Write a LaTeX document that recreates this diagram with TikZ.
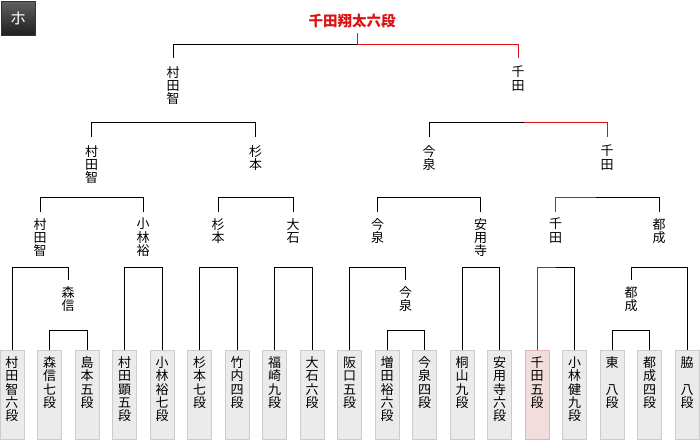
\documentclass[tikz,border=0pt]{standalone}
\usepackage{fontspec}
\setmainfont{Noto Sans CJK JP}
\usetikzlibrary{positioning}
\definecolor{winred}{HTML}{DD1111}
\definecolor{boxgray}{HTML}{EBEBEB}
\definecolor{boxline}{HTML}{CCCCCC}
\definecolor{winfill}{HTML}{F2DCDC}
\definecolor{winline}{HTML}{DDB5B5}
\tikzset{
  player/.style={
    draw=boxline,
    fill=boxgray,
    line width=1pt,
    anchor=north,
    minimum width=24pt,
    text width=14pt,
    inner xsep=5pt,
    inner ysep=6pt,
    text height=11pt,
    text depth=66pt,
    align=center,
    font=\fontsize{13}{13.3}\selectfont
  },
  winbox/.style={player, draw=winline, fill=winfill},
  tag/.style={
    anchor=north,
    inner xsep=0pt,
    inner ysep=6pt,
    align=center,
    font=\fontsize{13}{13.3}\selectfont
  },
  wire/.style={draw=black, line width=1pt},
  win/.style={draw=winred, line width=1pt}
}

\begin{document}
\begin{tikzpicture}[x=1pt, y=-1pt]
  \fill[white] (0,0) rectangle (700,440);
  \useasboundingbox (0,0) rectangle (700,440);

  \node[draw=black!80, minimum size=34pt, inner sep=0pt, top color=black!62, bottom color=black!88,
        text=white, font=\fontsize{16}{16}\selectfont] (blk) at (18,18) {ホ};
  \node[anchor=south, inner sep=5pt, text=winred, font=\fontsize{14.5}{15}\selectfont\bfseries] (champ) at (352,33) {千田翔太六段};

  % players
  \node[player] (p0) at (12,350) {村\\田\\智\\六\\段};
  \node[player] (p1) at (49.5,350) {森\\信\\七\\段};
  \node[player] (p2) at (87,350) {島\\本\\五\\段};
  \node[player] (p3) at (124.5,350) {村\\田\\顕\\五\\段};
  \node[player] (p4) at (162,350) {小\\林\\裕\\七\\段};
  \node[player] (p5) at (199.5,350) {杉\\本\\七\\段};
  \node[player] (p6) at (237,350) {竹\\内\\四\\段};
  \node[player] (p7) at (274.5,350) {福\\崎\\九\\段};
  \node[player] (p8) at (312,350) {大\\石\\六\\段};
  \node[player] (p9) at (349.5,350) {阪\\口\\五\\段};
  \node[player] (p10) at (387,350) {増\\田\\裕\\六\\段};
  \node[player] (p11) at (424.5,350) {今\\泉\\四\\段};
  \node[player] (p12) at (462,350) {桐\\山\\九\\段};
  \node[player] (p13) at (499.5,350) {安\\用\\寺\\六\\段};
  \node[winbox] (p14) at (537,350) {千\\田\\五\\段};
  \node[player] (p15) at (574.5,350) {小\\林\\健\\九\\段};
  \node[player] (p16) at (612,350) {東\\　\\八\\段};
  \node[player] (p17) at (649.5,350) {都\\成\\四\\段};
  \node[player] (p18) at (687,350) {脇\\　\\八\\段};

  % winners by round
  \node[tag] (w4a) at (68,280) {森\\信};
  \node[tag] (w4b) at (405.5,280) {今\\泉};
  \node[tag] (w4c) at (631,280) {都\\成};

  \node[tag] (w3a) at (40,212) {村\\田\\智};
  \node[tag] (w3b) at (143,212) {小\\林\\裕};
  \node[tag] (w3c) at (218,212) {杉\\本};
  \node[tag] (w3d) at (293,212) {大\\石};
  \node[tag] (w3e) at (377.5,212) {今\\泉};
  \node[tag] (w3f) at (480.5,212) {安\\用\\寺};
  \node[tag] (w3g) at (555.5,212) {千\\田};
  \node[tag] (w3h) at (659,212) {都\\成};

  \node[tag, inner ysep=8pt] (w2a) at (91.5,137) {村\\田\\智};
  \node[tag, inner ysep=8pt] (w2b) at (255.5,137) {杉\\本};
  \node[tag, inner ysep=8pt] (w2c) at (429,137) {今\\泉};
  \node[tag, inner ysep=8pt] (w2d) at (607,137) {千\\田};

  \node[tag, inner ysep=8pt] (w1a) at (173,58) {村\\田\\智};
  \node[tag, inner ysep=8pt] (w1b) at (518,58) {千\\田};

  % split points of the red path
  \coordinate (c0) at (357,44);
  \coordinate (c1) at (524,122);
  \coordinate (c2) at (596,197);
  \coordinate (c3) at (556,267);

  % first round
  \draw[wire] (p1.north) -- ++(0,-20) -| (p2.north);
  \draw[wire] (p10.north) -- ++(0,-20) -| (p11.north);
  \draw[wire] (p16.north) -- ++(0,-20) -| (p17.north);

  % second round
  \draw[wire] (w4a.north) -- ++(0,-13) -| (p0.north);
  \draw[wire] (p3.north) -- ++(0,-83) -| (p4.north);
  \draw[wire] (p5.north) -- ++(0,-83) -| (p6.north);
  \draw[wire] (p7.north) -- ++(0,-83) -| (p8.north);
  \draw[wire] (w4b.north) -- ++(0,-13) -| (p9.north);
  \draw[wire] (p12.north) -- ++(0,-83) -| (p13.north);
  \draw[wire] (p15.north) |- (c3);
  \draw[win] (c3) -| (p14.north);
  \draw[wire] (w4c.north) -- ++(0,-13) -| (p18.north);

  % third round
  \draw[wire] (w3a.north) -- ++(0,-15) -| (w3b.north);
  \draw[wire] (w3c.north) -- ++(0,-15) -| (w3d.north);
  \draw[wire] (w3e.north) -- ++(0,-15) -| (w3f.north);
  \draw[wire] (w3h.north) |- (c2);
  \draw[win] (c2) -| (w3g.north);

  % fourth round
  \draw[wire] (w2a.north) -- ++(0,-15) -| (w2b.north);
  \draw[wire] (w2c.north) |- (c1);
  \draw[win] (c1) -| (w2d.north);

  % final
  \draw[wire] (w1a.north) |- (c0);
  \draw[win] (c0) -| (w1b.north);
  \draw[win] (champ.south -| c0) -- (c0);
\end{tikzpicture}
\end{document}
